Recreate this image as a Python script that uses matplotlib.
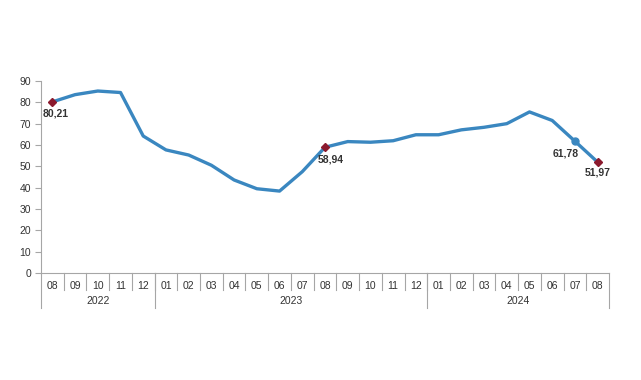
import matplotlib
matplotlib.use('Agg')
from matplotlib import pyplot as plt

plt.rcParams['font.family'] = ['Liberation Sans', 'DejaVu Sans']

months = ['08', '09', '10', '11', '12',
          '01', '02', '03', '04', '05', '06', '07', '08', '09', '10', '11', '12',
          '01', '02', '03', '04', '05', '06', '07', '08']
years = ['2022', '2023', '2024']
year_counts = [5, 12, 8]
values = [80.21, 83.6, 85.3, 84.6, 64.2,
          57.7, 55.3, 50.5, 43.6, 39.5, 38.4, 47.5, 58.94, 61.6, 61.3, 62.0, 64.8,
          64.8, 67.1, 68.3, 70.0, 75.5, 71.5, 61.78, 51.97]
# labelled points: index, text offset (points)
labels = {0: (2, -5), 12: (4, -5), 23: (-7, -5), 24: (0, -4)}
diamonds = [0, 12, 24]

gray = '#a6a6a6'
fig = plt.figure(figsize=(6.41, 3.8), dpi=100)
ax = fig.add_axes([41 / 641, 107 / 380, 568 / 641, 192 / 380])

x = list(range(len(values)))
ax.plot(x, values, color='#3a87c0', lw=2.4, zorder=2)
ax.plot([x[i] for i in diamonds], [values[i] for i in diamonds], 'D',
        color='#8b1a2e', ms=3.8, zorder=3)
ax.plot([23], [values[23]], 'o', color='#3a87c0', ms=5, zorder=3)

for i, off in labels.items():
    txt = f'{values[i]:.2f}'.replace('.', ',')
    ax.annotate(txt, (i, values[i]), xytext=off, textcoords='offset points',
                ha='center', va='top', fontsize=7.5, fontweight='bold',
                color='#333333')

ax.set_xlim(-0.5, len(values) - 0.5)
ax.set_ylim(0, 90)
ax.set_yticks(range(0, 91, 10))
ax.tick_params(axis='y', length=4, color=gray, labelsize=7.5, pad=3,
               labelcolor='#333333')
ax.set_xticks(x)
ax.set_xticklabels(months)
ax.tick_params(axis='x', length=0, labelsize=7.5, pad=6, labelcolor='#333333')
for s in ['top', 'right']:
    ax.spines[s].set_visible(False)
for s in ['left', 'bottom']:
    ax.spines[s].set_color(gray)

trans = ax.get_xaxis_transform()
# month separators
for b in range(1, len(values)):
    ax.plot([b - 0.5, b - 0.5], [0, -0.088], transform=trans, color=gray,
            lw=0.8, clip_on=False)
# year separators and labels
start = 0
ax.plot([-0.5, -0.5], [0, -0.18], transform=trans, color=gray, lw=0.8, clip_on=False)
for yr, n in zip(years, year_counts):
    end = start + n
    ax.plot([end - 0.5, end - 0.5], [0, -0.18], transform=trans, color=gray,
            lw=0.8, clip_on=False)
    ax.text((start + end - 1) / 2, -0.145, yr, transform=trans, ha='center',
            va='center', fontsize=7.5, color='#333333')
    start = end

fig.savefig('out.png', dpi=100)
